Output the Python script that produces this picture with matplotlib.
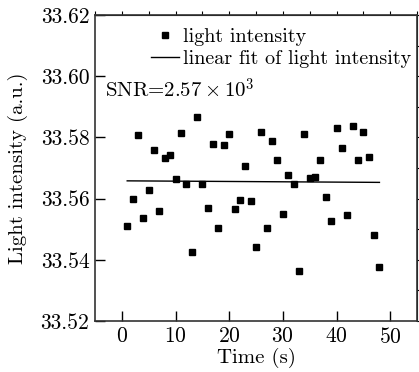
import numpy as np
import matplotlib
matplotlib.use("Agg")
from matplotlib import pyplot as plt

# data
time_s = list(range(1, 49))
intensity = [
    33.5511, 33.5599, 33.5807, 33.5536, 33.5627, 33.5760, 33.5558, 33.5734,
    33.5741, 33.5664, 33.5814, 33.5647, 33.5425, 33.5868, 33.5647, 33.5569,
    33.5778, 33.5503, 33.5775, 33.5811, 33.5566, 33.5596, 33.5708, 33.5592,
    33.5441, 33.5818, 33.5505, 33.5788, 33.5727, 33.5550, 33.5677, 33.5649,
    33.5363, 33.5812, 33.5666, 33.5672, 33.5727, 33.5605, 33.5528, 33.5830,
    33.5764, 33.5546, 33.5838, 33.5725, 33.5819, 33.5737, 33.5482, 33.5376,
]
fit_t = [1, 48]
fit_v = [33.5658, 33.5653]

x_ticks = [0, 10, 20, 30, 40, 50]
y_ticks = [33.52, 33.54, 33.56, 33.58, 33.60, 33.62]

plt.rcParams['font.family'] = 'serif'
plt.rcParams['font.serif'] = ['cmr10', 'DejaVu Serif']
plt.rcParams['mathtext.fontset'] = 'cm'
plt.rcParams['axes.formatter.use_mathtext'] = True

fig = plt.figure(figsize=(4.19, 3.72), dpi=100)
ax = fig.add_axes([95 / 419, 51 / 372, 322 / 419, 306 / 372])

ax.plot(time_s, intensity, 's', color='black', ms=4.7, label='light intensity')
ax.plot(fit_t, fit_v, '-', color='black', lw=1.0, label='linear fit of light intensity')

ax.set_xlim(-5, 55)
ax.set_ylim(33.52, 33.62)
ax.set_xticks(x_ticks)
ax.set_yticks(y_ticks)
ax.set_yticklabels([f'{v:.2f}' for v in y_ticks])
ax.tick_params(direction='in', length=7, width=1, pad=4, labelsize=15.5)

for s in ax.spines.values():
    s.set_linewidth(1.2)
    s.set_color('#333333')

# top and right ticks point outward
top = ax.secondary_xaxis('top')
top.set_xticks(np.arange(-5, 56, 5))
top.tick_params(direction='out', length=3, width=0.8, labeltop=False)
right = ax.secondary_yaxis('right')
right.set_yticks(np.linspace(33.52, 33.62, 11))
right.tick_params(direction='out', length=3, width=0.8, labelright=False)

ax.set_xlabel('Time (s)', fontsize=15, labelpad=1)
ax.set_ylabel('Light intensity (a.u.)', fontsize=15, labelpad=9)

ax.text(0.03, 0.755, r'SNR=$2.57\times10^3$', transform=ax.transAxes,
        fontsize=15, va='center', ha='left')

ax.legend(loc='upper right', bbox_to_anchor=(1.025, 1.005), frameon=False,
          fontsize=14.5, handlelength=1.35, handletextpad=0.2, labelspacing=0.2,
          borderpad=0.2)

fig.savefig('out.png', dpi=100)
